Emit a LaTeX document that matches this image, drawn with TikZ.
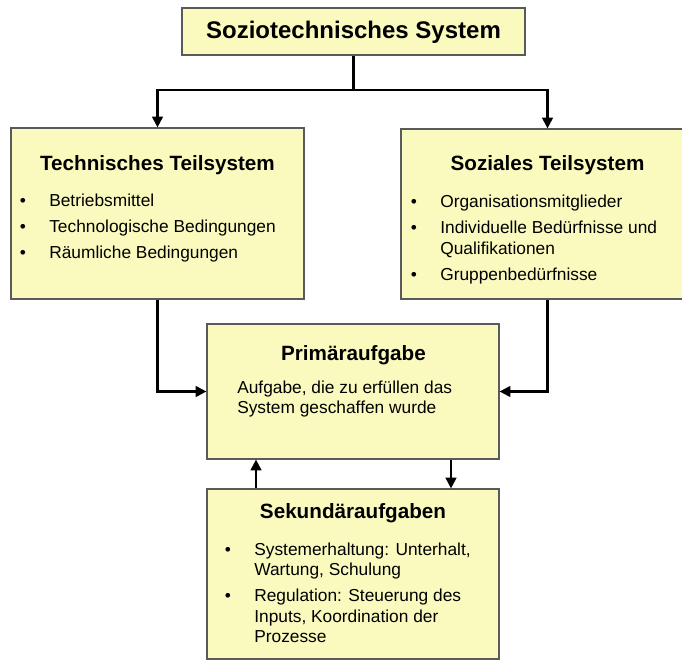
\documentclass[tikz,border=0pt]{standalone}
\usepackage{fontspec}
\setmainfont{Liberation Sans}
\usepackage{array}
\usetikzlibrary{arrows.meta}

\definecolor{gelb}{RGB}{250,250,190}
\definecolor{rand}{RGB}{90,90,90}
\newcommand{\pkt}{\textbullet}
\newcommand{\zwischen}{\\\noalign{\vskip 4.1pt}}
\newcolumntype{L}[1]{>{\raggedright\arraybackslash}p{#1}}

\begin{document}
\begin{tikzpicture}[x=0.75pt, y=-0.75pt,
  kasten/.style={draw=rand, fill=gelb, line width=0.9pt, inner sep=0pt},
  haupttitel/.style={anchor=base, inner sep=0pt, font=\bfseries\fontsize{18}{22}\selectfont},
  titel/.style={anchor=base, inner sep=0pt, font=\bfseries\fontsize{15.5}{19}\selectfont},
  inhalt/.style={anchor=base west, inner sep=0pt, font=\fontsize{13}{15.4}\selectfont},
  pfeil/.style={-{Triangle[length=8pt,width=8pt]}, line width=1.6pt},
  linie/.style={line width=1.6pt}]
  % Soziotechnisches System: Teilsysteme und Aufgaben

  \useasboundingbox (0,0) rectangle (682,660);

  % Kaesten
  \node[kasten, minimum width=257.25pt, minimum height=35.25pt] (sys) at (353.5,31.5) {};
  \node[kasten, minimum width=219.75pt, minimum height=128.25pt] (tech) at (157.5,213.5) {};
  \node[kasten, minimum width=219.75pt, minimum height=127.5pt] (soz) at (547.5,214) {};
  \node[kasten, minimum width=219pt, minimum height=101.25pt] (prim) at (353,391.5) {};
  \node[kasten, minimum width=219pt, minimum height=127.5pt] (sek) at (353,574) {};

  % Titel
  \node[haupttitel] (systitel) at (353.5,38.5) {Soziotechnisches System};
  \node[titel] (techtitel) at (157.5,171) {Technisches Teilsystem};
  \node[titel] (soztitel) at (547.5,171) {Soziales Teilsystem};
  \node[titel] (primtitel) at (353.5,360) {Primäraufgabe};
  \node[titel] (sektitel) at (353,518) {Sekundäraufgaben};

  % Inhalte
  \node[inhalt] (techliste) at (19.7,206) {\begin{tabular}[t]{@{}p{22pt}@{}L{200pt}@{}}
    \pkt & Betriebsmittel\zwischen
    \pkt & Technologische Bedingungen\zwischen
    \pkt & Räumliche Bedingungen
  \end{tabular}};
  \node[inhalt] (sozliste) at (410.7,207.5) {\begin{tabular}[t]{@{}p{22pt}@{}L{175pt}@{}}
    \pkt & Organisationsmitglieder\zwischen
    \pkt & Individuelle Bedürfnisse und Qualifikationen\zwischen
    \pkt & Gruppenbedürfnisse
  \end{tabular}};
  \node[inhalt] (primtext) at (237,393) {\begin{tabular}[t]{@{}l@{}}
    Aufgabe, die zu erfüllen das\\
    System geschaffen wurde
  \end{tabular}};
  \node[inhalt] (sekliste) at (224.7,555) {\begin{tabular}[t]{@{}p{22pt}@{}L{172pt}@{}}
    \pkt & Systemerhaltung: Unterhalt, Wartung, Schulung\zwischen
    \pkt & Regulation: Steuerung des Inputs, Koordination der Prozesse
  \end{tabular}};

  % Verbindungen
  \draw[linie] (sys.south) -- ++(0,34) coordinate (verteiler);
  \draw[pfeil] (verteiler) -| (tech.north);
  \draw[pfeil] (verteiler) -| (soz.north);
  \draw[pfeil] (tech.south) |- (prim.west);
  \draw[pfeil] (soz.south) |- (prim.east);
  \draw[pfeil] ([xshift=-72.75pt]sek.north) -- ([xshift=-72.75pt]prim.south);
  \draw[pfeil] ([xshift=73.5pt]prim.south) -- ([xshift=73.5pt]sek.north);
\end{tikzpicture}
\end{document}
